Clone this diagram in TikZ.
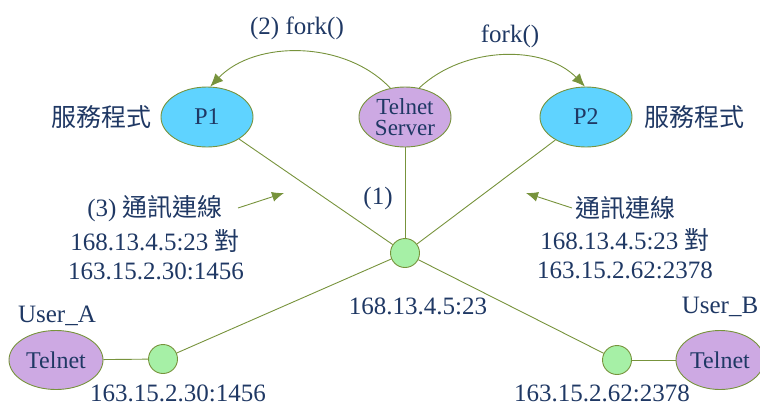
\documentclass[tikz,border=0pt]{standalone}
\usepackage{fontspec}
\setmainfont{Liberation Serif}
\newfontfamily\lser{Liberation Serif}
\newfontfamily\cjk{Noto Sans CJK TC}
\usetikzlibrary{shapes.geometric,arrows.meta}
\definecolor{txt}{HTML}{1F3864}
\definecolor{olive}{HTML}{77933C}
\definecolor{cyanf}{HTML}{5FD3FF}
\definecolor{purf}{HTML}{CDA9E3}
\definecolor{grnf}{HTML}{A6F0A6}
\tikzset{
  ell/.style={ellipse,draw=olive,line width=0.9pt,minimum width=92pt,minimum height=60pt,inner sep=0pt,text=txt,font=\lser\fontsize{24}{22}\selectfont,align=center},
  dot/.style={circle,draw=olive,line width=0.9pt,fill=grnf,minimum size=29pt,inner sep=0pt},
  lbl/.style={text=txt,font=\lser\fontsize{25}{30}\selectfont,inner sep=0pt,align=center},
  conn/.style={draw=olive,line width=0.9pt},
  arr/.style={conn,-{Latex[length=13pt,width=11pt]}}
}
\begin{document}
\begin{tikzpicture}[x=1pt,y=-1pt]
\useasboundingbox (0,0) rectangle (760,407);
% nodes
\node[ell,fill=cyanf] (p1) at (207,117) {P1};
\node[ell,fill=purf,font=\lser\fontsize{23}{21}\selectfont] (srv) at (405,117) {Telnet\\Server};
\node[ell,fill=cyanf] (p2) at (586,117) {P2};
\node[dot] (c) at (405,253) {};
\node[dot] (ga) at (163,359) {};
\node[dot] (gb) at (617,360) {};
\node[ell,fill=purf,minimum width=94pt,minimum height=59pt] (ua) at (56,360) {Telnet};
\node[ell,fill=purf,minimum width=88pt,minimum height=59pt] (ub) at (720,360) {Telnet};
% connectors
\draw[conn] (p1) -- (c);
\draw[conn] (p2) -- (c);
\draw[conn] (srv) -- (c);
\draw[conn] (c) -- (ga);
\draw[conn] (c) -- (gb);
\draw[conn] (ua) -- (ga);
\draw[conn] (ub) -- (gb);
% fork arcs
\draw[arr] (srv.117) .. controls (345,40) and (255,40) .. (p1.84);
\draw[arr] (srv.64) .. controls (465,45) and (545,45) .. (p2.92);
% labels
\node[lbl] (l2) at (297,28) {(2) fork()};
\node[lbl] (lf) at (510,36) {fork()};
\node[lbl] (sl) at (101,117) {\cjk 服務程式};
\node[lbl] (sr) at (694,117) {\cjk 服務程式};
\node[lbl] (l1) at (378,198) {(1)};
\node[lbl] (la1) at (155,209) {(3) {\cjk 通訊連線}};
\node[lbl] (la2) at (155,241) {168.13.4.5:23 {\cjk 對}};
\node[lbl] (la3) at (156,271) {163.15.2.30:1456};
\node[lbl] (ra1) at (625,208) {\cjk 通訊連線};
\node[lbl] (ra2) at (625,240) {168.13.4.5:23 {\cjk 對}};
\node[lbl] (ra3) at (625,270) {163.15.2.62:2378};
\node[lbl] (lc) at (418,306) {168.13.4.5:23};
\node[lbl] (lua) at (57,316) {User\_A};
\node[lbl] (lub) at (720,307) {User\_B};
\node[lbl] (lga) at (178,393) {163.15.2.30:1456};
\node[lbl] (lgb) at (602,393) {163.15.2.62:2378};
% pointer arrows
\coordinate (as) at (238,208);
\coordinate (at) at (284,193);
\coordinate (bs) at (572,208);
\coordinate (bt) at (526,193);
\draw[arr,-{Latex[length=12pt,width=10pt]}] (as) -- (at);
\draw[arr,-{Latex[length=12pt,width=10pt]}] (bs) -- (bt);
\end{tikzpicture}
\end{document}
